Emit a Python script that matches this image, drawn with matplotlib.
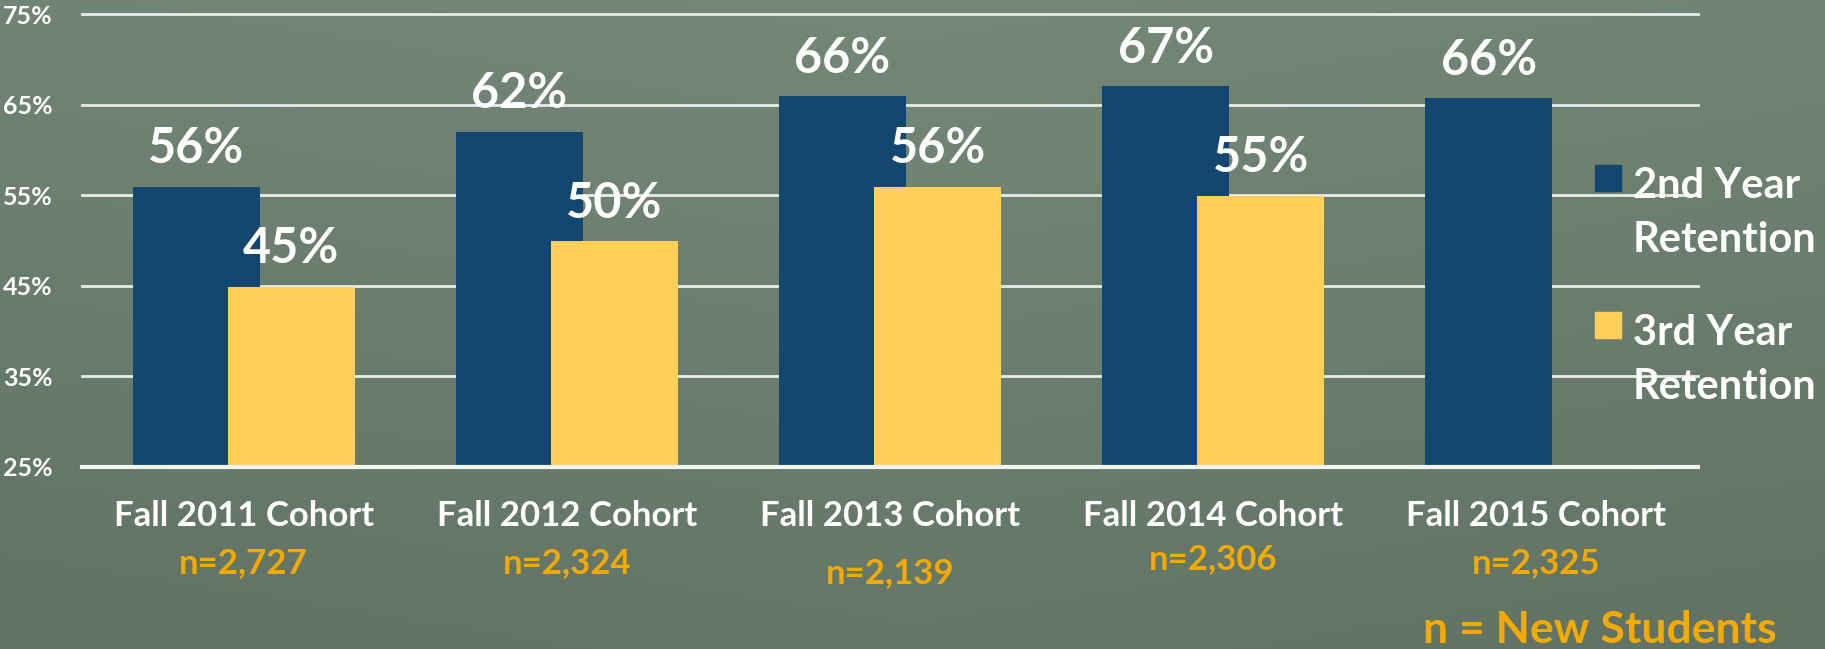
import numpy as np
import matplotlib.pyplot as plt
from matplotlib.patches import Rectangle
from matplotlib.transforms import blended_transform_factory

plt.rcParams['font.family'] = ['Lato', 'DejaVu Sans']

cohorts = ["Fall 2011 Cohort", "Fall 2012 Cohort", "Fall 2013 Cohort",
           "Fall 2014 Cohort", "Fall 2015 Cohort"]
n_labels = ["n=2,727", "n=2,324", "n=2,139", "n=2,306", "n=2,325"]
second_year = [55.9, 62.0, 65.9, 67.0, 65.7]
third_year = [44.9, 49.9, 55.9, 54.9, None]
yticks = [25, 35, 45, 55, 65, 75]

navy = "#12476F"
gold = "#FFD057"
orange = "#F2AA00"

W, H = 1825, 649
fig = plt.figure(figsize=(W / 100, H / 100), dpi=100)

# background gradient
bg = fig.add_axes([0, 0, 1, 1], zorder=-10)
yy, xx = np.mgrid[0:1:200j, 0:1:400j]
light = 1 - 0.55 * yy - 0.25 * np.abs(xx - 0.5)
top = np.array([0x74, 0x88, 0x78]) / 255
bot = np.array([0x58, 0x68, 0x5c]) / 255
img = bot + (top - bot) * light[..., None]
bg.imshow(np.clip(img, 0, 1), aspect='auto', extent=[0, 1, 0, 1])
bg.axis('off')

ax = fig.add_axes([82 / W, 1 - 467 / H, 1616 / W, 453 / H])
ax.patch.set_alpha(0)
x = np.arange(len(cohorts))
bw = 0.393
off = 0.147

for i, v in enumerate(second_year):
    ax.bar(x[i] - off, v - 25, bw, bottom=25, color=navy, zorder=3)
    ax.annotate(f"{v:.0f}%", (x[i] - off, v), xytext=(0, 17), textcoords='offset points',
                ha='center', va='baseline', color='white', fontsize=35, fontweight='bold', zorder=5)
for i, v in enumerate(third_year):
    if v is None:
        continue
    ax.bar(x[i] + off, v - 25, bw, bottom=25, color=gold, zorder=4)
    ax.annotate(f"{v:.0f}%", (x[i] + off, v), xytext=(0, 17), textcoords='offset points',
                ha='center', va='baseline', color='white', fontsize=35, fontweight='bold', zorder=5)

ax.set_xlim(-0.5, 4.5)
ax.set_ylim(25, 75)
for t in yticks[1:]:
    ax.axhline(t, color='#e8ece8', lw=2, zorder=1, clip_on=False)
ax.axhline(25, color='#f2f4f2', lw=3, zorder=6, clip_on=False)

ax.set_yticks(yticks)
ax.set_yticklabels([f"{t}%" for t in yticks], color='white', fontsize=18, fontweight='bold')
ax.tick_params(axis='y', length=0, pad=21)
ax.set_xticks(x)
ax.set_xticklabels(cohorts, color='white', fontsize=25, fontweight='bold')
ax.tick_params(axis='x', length=0, pad=24)
for s in ax.spines.values():
    s.set_visible(False)

tr = blended_transform_factory(ax.transData, ax.transAxes)
n_drop = [0, 0, 7, -3, 0]
for i, lab in enumerate(n_labels):
    ax.annotate(lab, (x[i], 0), xycoords=tr, xytext=(0, -69 - n_drop[i]), textcoords='offset points',
                ha='center', va='center', color=orange, fontsize=25, fontweight='bold')

# legend
leg = [("2nd Year\nRetention", navy, 165), ("3rd Year\nRetention", gold, 312)]
for lab, c, ytop in leg:
    fig.patches.append(Rectangle((1595 / W, 1 - (ytop + 26) / H), 26 / W, 26 / H,
                                 transform=fig.transFigure, color=c))
    fig.text(1633 / W, 1 - (ytop + 2) / H, lab, color='white', fontsize=30, fontweight='bold',
             va='top', ha='left', linespacing=1.5)

fig.text(1777 / W, 1 - 643 / H, "n = New Students", color=orange, fontsize=32,
         fontweight='bold', ha='right', va='baseline')

fig.savefig("out.png", dpi=100)
